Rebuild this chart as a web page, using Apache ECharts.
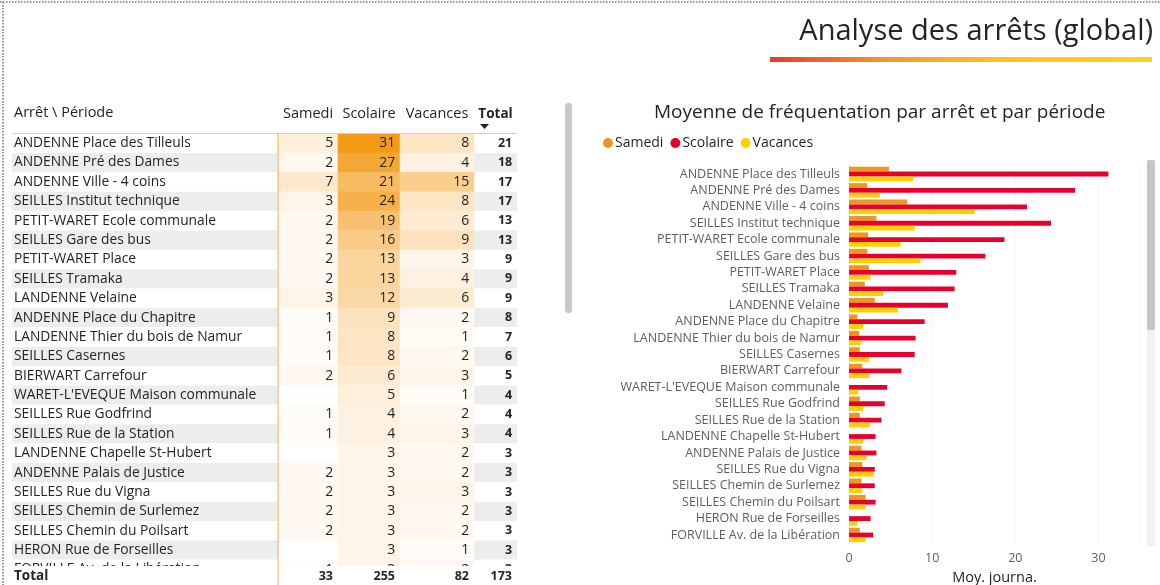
<!DOCTYPE html>
<html>
<head>
<meta charset="utf-8">
<script src="https://cdn.jsdelivr.net/npm/echarts@6/dist/echarts.min.js"></script>
<style>
  html, body { margin: 0; padding: 0; background: #fff; }
  #main { width: 1160px; height: 585px; }
</style>
</head>
<body>
<div id="main"></div>
<script>
const stops = [
  'ANDENNE Place des Tilleuls',
  'ANDENNE Pré des Dames',
  'ANDENNE Ville - 4 coins',
  'SEILLES Institut technique',
  'PETIT-WARET Ecole communale',
  'SEILLES Gare des bus',
  'PETIT-WARET Place',
  'SEILLES Tramaka',
  'LANDENNE Velaine',
  'ANDENNE Place du Chapitre',
  'LANDENNE Thier du bois de Namur',
  'SEILLES Casernes',
  'BIERWART Carrefour',
  "WARET-L'EVEQUE Maison communale",
  'SEILLES Rue Godfrind',
  'SEILLES Rue de la Station',
  'LANDENNE Chapelle St-Hubert',
  'ANDENNE Palais de Justice',
  'SEILLES Rue du Vigna',
  'SEILLES Chemin de Surlemez',
  'SEILLES Chemin du Poilsart',
  'HERON Rue de Forseilles',
  'FORVILLE Av. de la Libération'
];
const periods = ['Samedi', 'Scolaire', 'Vacances'];

// table (rounded values)
const tableSamedi = [5, 2, 7, 3, 2, 2, 2, 2, 3, 1, 1, 1, 2, null, 1, 1, null, 2, 2, 2, 2, null, 1];
const tableScolaire = [31, 27, 21, 24, 19, 16, 13, 13, 12, 9, 8, 8, 6, 5, 4, 4, 3, 3, 3, 3, 3, 3, 3];
const tableVacances = [8, 4, 15, 8, 6, 9, 3, 4, 6, 2, 1, 2, 3, 1, 2, 3, 2, 2, 3, 2, 2, 1, 2];
const tableTotal = [21, 18, 17, 17, 13, 13, 9, 9, 9, 8, 7, 6, 5, 4, 4, 4, 3, 3, 3, 3, 3, 3, 3];
const grandTotal = [33, 255, 82, 173];

// bar chart (daily averages)
const avgSamedi = [4.8, 2.2, 7.0, 3.3, 2.3, 2.2, 2.4, 1.9, 3.1, 1.0, 1.2, 1.3, 1.6, null, 1.3, 1.3, null, 1.5, 1.6, 1.5, 2.0, null, 1.3];
const avgScolaire = [31.2, 27.2, 21.4, 24.3, 18.7, 16.4, 12.9, 12.7, 11.9, 9.1, 8.0, 7.9, 6.3, 4.6, 4.3, 3.9, 3.2, 3.3, 3.1, 3.1, 3.2, 2.6, 2.9];
const avgVacances = [7.7, 3.7, 15.1, 7.9, 6.2, 8.6, 2.6, 4.1, 5.9, 1.7, 1.4, 2.4, 2.5, 1.1, 1.7, 2.5, 1.7, 2.1, 3.0, 1.6, 2.0, 1.0, 2.0];

const FONT = '"Segoe UI", "Open Sans", sans-serif';
const TXT = '#252423';

// table layout
const rowH = 19.38;
const tableTop = 133.5;
const tableH = rowH * stops.length;
const cols = [
  { left: 12, width: 266 },
  { left: 278, width: 60 },
  { left: 338, width: 62 },
  { left: 400, width: 74 },
  { left: 474, width: 43 }
];

const grids = cols.map(c => ({ left: c.left, width: c.width, top: tableTop, height: tableH, outerBoundsMode: 'none', containLabel: false }));
grids.push({ left: 849, right: 20, top: 165.8, bottom: 41.8, outerBoundsMode: 'none', containLabel: false });

const hidden = { show: false };
const xAxes = cols.map((c, i) => ({
  type: 'category',
  gridIndex: i,
  position: 'top',
  data: i === 0 ? [''] : [i === 4 ? 'Total' : periods[i - 1]],
  axisLine: hidden,
  axisTick: hidden,
  axisLabel: {
    show: i > 0,
    margin: 12,
    fontFamily: FONT,
    fontSize: i === 4 ? 13.5 : 14.5,
    color: TXT,
    fontWeight: i === 4 ? 'bold' : 'normal'
  }
}));
xAxes.push({
  type: 'value',
  gridIndex: 5,
  min: 0,
  max: 35,
  interval: 10,
  name: 'Moy. journa.',
  nameLocation: 'middle',
  nameGap: 26,
  nameTextStyle: { fontFamily: FONT, fontSize: 14.5, color: TXT },
  axisLine: hidden,
  axisTick: hidden,
  axisLabel: { showMaxLabel: false, margin: 9, fontFamily: FONT, fontSize: 12.5, color: '#605e5c' },
  splitLine: { lineStyle: { color: '#dddddd', type: [1, 3] } }
});

const stripe = { show: true, areaStyle: { color: ['#ffffff', '#eceeed'] } };
const yAxes = cols.map((c, i) => ({
  type: 'category',
  gridIndex: i,
  inverse: true,
  data: stops,
  axisLine: hidden,
  axisTick: hidden,
  splitLine: hidden,
  splitArea: i === 0 || i === 4 ? stripe : hidden,
  axisLabel: {
    show: i === 0,
    inside: true,
    margin: 2,
    interval: 0,
    fontFamily: FONT,
    fontSize: 13.8,
    color: TXT
  }
}));
yAxes.push({
  type: 'category',
  gridIndex: 5,
  inverse: true,
  data: stops,
  axisLine: hidden,
  axisTick: hidden,
  axisLabel: { interval: 0, margin: 9, fontFamily: FONT, fontSize: 12.5, color: '#605e5c' }
});

function cells(values) {
  const out = [];
  values.forEach((v, idx) => {
    if (v != null) out.push([0, idx, v]);
  });
  return out;
}

const cellLabel = { show: true, position: 'insideRight', distance: 5, fontFamily: FONT, fontSize: 14, color: TXT };
const tableCols = [tableSamedi, tableScolaire, tableVacances];
const series = tableCols.map((vals, i) => ({
  type: 'heatmap',
  xAxisIndex: i + 1,
  yAxisIndex: i + 1,
  data: cells(vals),
  label: cellLabel,
  emphasis: { disabled: true }
}));
series.push({
  type: 'heatmap',
  xAxisIndex: 4,
  yAxisIndex: 4,
  data: cells(tableTotal),
  itemStyle: { color: 'rgba(0,0,0,0)' },
  label: Object.assign({}, cellLabel, { fontSize: 12.5, fontWeight: 'bold' }),
  emphasis: { disabled: true }
});

const barColors = ['#f0961e', '#e8002d', '#ffd000'];
[avgSamedi, avgScolaire, avgVacances].forEach((vals, i) => {
  series.push({
    name: periods[i],
    type: 'bar',
    xAxisIndex: 5,
    yAxisIndex: 5,
    data: vals,
    itemStyle: { color: barColors[i] },
    barGap: '0%',
    barCategoryGap: '12%'
  });
});

// total row under the table
const totalRowY = 576;
const totalTexts = grandTotal.map((v, i) => ({
  type: 'text',
  z: 102,
  style: {
    x: cols[i + 1].left + cols[i + 1].width - 5,
    y: totalRowY,
    text: String(v),
    align: 'right',
    verticalAlign: 'middle',
    font: 'bold 12.5px ' + FONT,
    fill: TXT
  }
}));

const graphic = [
  // dotted frame
  { type: 'line', shape: { x1: 0, y1: 2, x2: 1160, y2: 2 }, style: { stroke: '#777', lineWidth: 1.5, lineDash: [1.5, 1.5] } },
  { type: 'line', shape: { x1: 3, y1: 2, x2: 3, y2: 585 }, style: { stroke: '#777', lineWidth: 1.5, lineDash: [1.5, 1.5] } },
  // title underline
  {
    type: 'rect',
    shape: { x: 770, y: 57, width: 382, height: 5 },
    style: {
      fill: new echarts.graphic.LinearGradient(0, 0, 1, 0, [
        { offset: 0, color: '#e63a2e' },
        { offset: 0.3, color: '#f39632' },
        { offset: 0.6, color: '#fbc229' },
        { offset: 1, color: '#ffd21f' }
      ])
    }
  },
  // table header
  { type: 'text', style: { x: 14, y: 113, text: 'Arrêt \\ Période', verticalAlign: 'middle', font: '14.5px ' + FONT, fill: TXT } },
  { type: 'polygon', shape: { points: [[480, 124], [489, 124], [484.5, 129]] }, style: { fill: '#222' } },
  // hide bottom of the clipped row
  { type: 'rect', z: 100, shape: { x: 8, y: 566, width: 515, height: 19 }, style: { fill: '#fff' } },
  { type: 'line', z: 101, shape: { x1: 12, y1: 133.5, x2: 517, y2: 133.5 }, style: { stroke: '#f9c77e', lineWidth: 1 } },
  { type: 'line', z: 101, shape: { x1: 278, y1: 133.5, x2: 278, y2: 585 }, style: { stroke: '#f7b246', lineWidth: 1 } },
  { type: 'text', z: 102, style: { x: 14, y: totalRowY, text: 'Total', verticalAlign: 'middle', font: 'bold 13.5px ' + FONT, fill: TXT } },
  ...totalTexts,
  // scrollbars
  { type: 'rect', shape: { x: 565, y: 103, width: 7, height: 210, r: 3 }, style: { fill: '#c8c8c8' } },
  { type: 'rect', shape: { x: 1147, y: 160, width: 8, height: 386 }, style: { fill: '#f1f1f1' } },
  { type: 'rect', shape: { x: 1147, y: 160, width: 8, height: 170, r: 2 }, style: { fill: '#c6c6c6' } }
];

const myChart = echarts.init(document.getElementById('main'));
myChart.setOption({
  animation: false,
  textStyle: { fontFamily: FONT },
  title: [
    {
      text: 'Analyse des arrêts (global)',
      right: 2,
      top: 12,
      textStyle: { fontFamily: FONT, fontSize: 29, fontWeight: 'normal', color: TXT }
    },
    {
      text: 'Moyenne de fréquentation par arrêt et par période',
      left: 649,
      top: 98,
      textStyle: { fontFamily: FONT, fontSize: 19, fontWeight: 'normal', color: TXT }
    }
  ],
  legend: {
    data: periods,
    left: 598,
    top: 131,
    icon: 'circle',
    itemWidth: 10,
    itemHeight: 10,
    itemGap: 7,
    textStyle: { fontFamily: FONT, fontSize: 14, color: TXT, padding: [0, 0, 0, -3] }
  },
  visualMap: {
    type: 'continuous',
    show: false,
    min: 0,
    max: 31,
    seriesIndex: [0, 1, 2],
    inRange: { color: ['#ffffff', '#f39a17'] }
  },
  grid: grids,
  xAxis: xAxes,
  yAxis: yAxes,
  series: series,
  graphic: graphic
});
</script>
</body>
</html>
